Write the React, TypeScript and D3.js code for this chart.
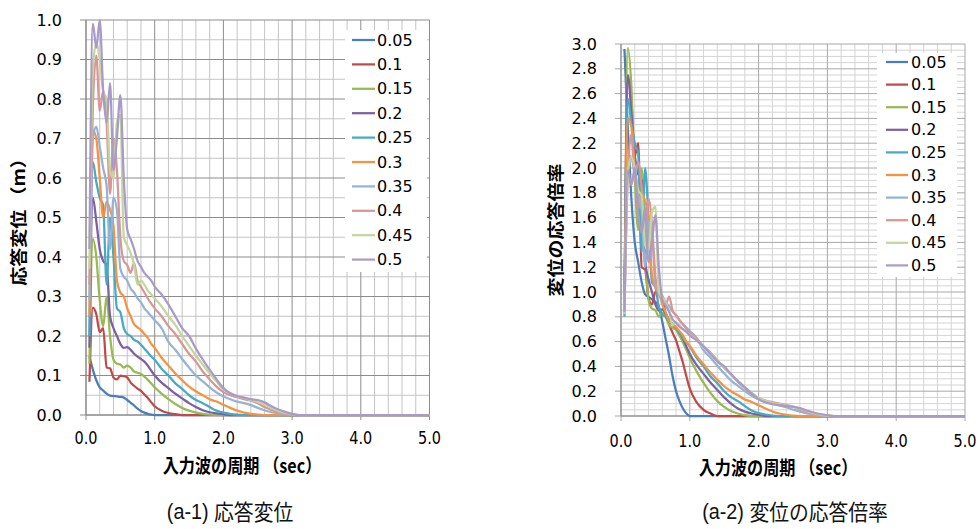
import React from 'react';
import * as d3 from 'd3';

const periods = [0.05, 0.1, 0.15, 0.2, 0.25, 0.3, 0.35, 0.4, 0.45, 0.5, 0.55, 0.6, 0.65, 0.7, 0.75, 0.8, 0.85, 0.9, 0.95, 1.0,
  1.1, 1.2, 1.3, 1.4, 1.5, 1.6, 1.7, 1.8, 1.9, 2.0, 2.1, 2.2, 2.3, 2.4, 2.5, 2.6, 2.7, 2.8, 2.9, 3.0, 3.1, 5.0];

const amplitudes = [0.05, 0.1, 0.15, 0.2, 0.25, 0.3, 0.35, 0.4, 0.45, 0.5];
const seriesLabels = ['0.05', '0.1', '0.15', '0.2', '0.25', '0.3', '0.35', '0.4', '0.45', '0.5'];
const colors = ['#4A7EBB', '#BE4B48', '#98B954', '#7D60A0', '#46AAC5', '#F69240', '#95B3D7', '#D99694', '#C3D69B', '#A99BC8'];

// response displacement (m) (a-1)
const d005 = [0.148, 0.115, 0.088, 0.07, 0.062, 0.054, 0.049, 0.048, 0.047, 0.046, 0.044, 0.038, 0.031, 0.024, 0.016, 0.01, 0.006, 0.003, 0.001, 0,
  0, 0, 0, 0, 0, 0, 0, 0, 0, 0, 0, 0, 0, 0, 0, 0, 0, 0, 0, 0, 0, 0];
const d010 = [0.084, 0.272, 0.255, 0.21, 0.22, 0.12, 0.118, 0.095, 0.09, 0.1, 0.098, 0.095, 0.082, 0.074, 0.067, 0.061, 0.052, 0.043, 0.032, 0.022,
  0.011, 0.005, 0.002, 0, 0, 0, 0, 0, 0, 0, 0, 0, 0, 0, 0, 0, 0, 0, 0, 0, 0, 0];
const d015 = [0.13, 0.445, 0.4, 0.29, 0.225, 0.3, 0.2, 0.14, 0.13, 0.128, 0.12, 0.125, 0.12, 0.11, 0.107, 0.104, 0.097, 0.089, 0.08, 0.07,
  0.054, 0.04, 0.028, 0.018, 0.011, 0.006, 0.003, 0.001, 0, 0, 0, 0, 0, 0, 0, 0, 0, 0, 0, 0, 0, 0];
const d020 = [0.17, 0.55, 0.49, 0.42, 0.39, 0.38, 0.25, 0.22, 0.2, 0.18, 0.17, 0.172, 0.165, 0.155, 0.148, 0.142, 0.135, 0.125, 0.112, 0.1,
  0.082, 0.068, 0.054, 0.042, 0.03, 0.02, 0.012, 0.007, 0.004, 0.002, 0, 0, 0, 0, 0, 0, 0, 0, 0, 0, 0, 0];
const d025 = [0.2, 0.64, 0.59, 0.55, 0.53, 0.33, 0.5, 0.4, 0.27, 0.26, 0.22, 0.205, 0.2, 0.19, 0.186, 0.178, 0.168, 0.158, 0.148, 0.14,
  0.117, 0.1, 0.08, 0.066, 0.05, 0.038, 0.03, 0.02, 0.011, 0.006, 0.003, 0.001, 0, 0, 0, 0, 0, 0, 0, 0, 0, 0];
const d030 = [0.25, 0.72, 0.7, 0.6, 0.5, 0.54, 0.52, 0.48, 0.34, 0.31, 0.3, 0.27, 0.25, 0.23, 0.222, 0.215, 0.205, 0.195, 0.18, 0.17,
  0.145, 0.125, 0.105, 0.088, 0.072, 0.06, 0.05, 0.04, 0.034, 0.026, 0.018, 0.011, 0.006, 0.003, 0.001, 0, 0, 0, 0, 0, 0, 0];
const d035 = [0.29, 0.7, 0.73, 0.68, 0.625, 0.58, 0.42, 0.55, 0.52, 0.37, 0.35, 0.34, 0.32, 0.31, 0.295, 0.285, 0.27, 0.26, 0.25, 0.24,
  0.22, 0.185, 0.165, 0.142, 0.12, 0.1, 0.085, 0.07, 0.057, 0.047, 0.04, 0.034, 0.03, 0.025, 0.018, 0.012, 0.007, 0.004, 0.002, 0, 0, 0];
const d040 = [0.33, 0.78, 0.91, 0.77, 0.82, 0.74, 0.56, 0.7, 0.62, 0.45, 0.39, 0.38, 0.36, 0.385, 0.34, 0.325, 0.31, 0.295, 0.282, 0.27,
  0.25, 0.225, 0.205, 0.18, 0.155, 0.135, 0.11, 0.09, 0.072, 0.058, 0.05, 0.045, 0.04, 0.036, 0.03, 0.02, 0.013, 0.007, 0.003, 0.001, 0, 0];
const d045 = [0.37, 0.88, 0.94, 0.9, 0.82, 0.8, 0.62, 0.6, 0.74, 0.76, 0.45, 0.43, 0.41, 0.38, 0.33, 0.34, 0.33, 0.315, 0.305, 0.295,
  0.275, 0.25, 0.228, 0.2, 0.175, 0.15, 0.128, 0.105, 0.085, 0.065, 0.055, 0.047, 0.043, 0.038, 0.033, 0.027, 0.018, 0.01, 0.005, 0.002, 0, 0];
const d050 = [0.42, 0.99, 0.93, 1.0, 0.82, 0.74, 0.84, 0.62, 0.7, 0.81, 0.6, 0.47, 0.445, 0.42, 0.39, 0.375, 0.36, 0.35, 0.34, 0.325,
  0.305, 0.28, 0.25, 0.22, 0.2, 0.168, 0.14, 0.115, 0.09, 0.068, 0.055, 0.048, 0.044, 0.04, 0.038, 0.032, 0.022, 0.014, 0.008, 0.003, 0, 0];

const displacement = [d005, d010, d015, d020, d025, d030, d035, d040, d045, d050];
// response ratio = response displacement / input amplitude
const ratio = displacement.map((s, i) => s.map((v) => v / amplitudes[i]));

const xTickLabels = ['0.0', '1.0', '2.0', '3.0', '4.0', '5.0'];
const leftYTicks = [0, 0.1, 0.2, 0.3, 0.4, 0.5, 0.6, 0.7, 0.8, 0.9, 1.0];
const rightYTicks = [0, 0.2, 0.4, 0.6, 0.8, 1.0, 1.2, 1.4, 1.6, 1.8, 2.0, 2.2, 2.4, 2.6, 2.8, 3.0];

const NUM_FONT = 'DejaVu Sans, sans-serif';
const CJK_FONT = '"Noto Sans CJK JP", sans-serif';

type ChartProps = {
  x0: number; x1: number; yBottom: number; yTop: number; yMax: number;
  yTicks: number[]; minorYStep: number; data: number[][];
  yLabelX: number; xLabelY: number;
  yTitle: string; yTitleX: number; xTitleX: number; xTitleY: number;
  legend: { x0: number; x1: number; y0: number; y1: number; first: number; step: number; lx0: number; lx1: number; tx: number };
  majorColor: string; minorColor: string;
};

function Chart(p: ChartProps) {
  const x = d3.scaleLinear().domain([0, 5]).range([p.x0, p.x1]);
  const y = d3.scaleLinear().domain([0, p.yMax]).range([p.yBottom, p.yTop]);
  const line = d3.line<[number, number]>().x((d) => x(d[0])).y((d) => y(Math.min(d[1], p.yMax))).curve(d3.curveMonotoneX);
  const minorX = d3.range(0, 5.0001, 0.2).filter((v) => Math.abs(v - Math.round(v)) > 1e-6);
  const minorY = d3.range(0, p.yMax + 1e-6, p.minorYStep).filter((v) => !p.yTicks.some((t) => Math.abs(t - v) < 1e-6));
  const fmt = d3.format('.1f');
  const midY = (p.yBottom + p.yTop) / 2;
  return (
    <g>
      {minorY.map((v, i) => (
        <line key={'my' + i} x1={p.x0} x2={p.x1} y1={y(v)} y2={y(v)} stroke={p.minorColor} strokeWidth={1} />
      ))}
      {minorX.map((v, i) => (
        <line key={'mx' + i} x1={x(v)} x2={x(v)} y1={p.yBottom} y2={p.yTop} stroke={p.minorColor} strokeWidth={1} />
      ))}
      {p.yTicks.map((v, i) => (
        <line key={'gy' + i} x1={p.x0 - 6} x2={p.x1} y1={y(v)} y2={y(v)} stroke={p.majorColor} strokeWidth={1} />
      ))}
      {d3.range(0, 6).map((v) => (
        <line key={'gx' + v} x1={x(v)} x2={x(v)} y1={p.yBottom + 5} y2={p.yTop} stroke={p.majorColor} strokeWidth={1} />
      ))}
      <line x1={p.x0} x2={p.x1} y1={p.yBottom} y2={p.yBottom} stroke="#868686" strokeWidth={1} />
      <line x1={p.x0} x2={p.x0} y1={p.yBottom} y2={p.yTop} stroke="#868686" strokeWidth={1} />
      {p.data.map((s, i) => (
        <path key={'s' + i} d={line(periods.map((t, j) => [t, s[j]] as [number, number])) || ''}
          fill="none" stroke={colors[i]} strokeWidth={2.25} strokeLinejoin="round" />
      ))}
      {p.yTicks.map((v, i) => (
        <text key={'yl' + i} x={p.yLabelX} y={y(v)} textAnchor="end" dominantBaseline="central"
          fontFamily={NUM_FONT} fontSize={16} fill="#000">{fmt(v)}</text>
      ))}
      {xTickLabels.map((lab, i) => (
        <text key={'xl' + i} transform={`translate(${x(i)},${p.xLabelY}) scale(0.85,1)`} textAnchor="middle" dominantBaseline="central"
          fontFamily={NUM_FONT} fontSize={17} fill="#000">{lab}</text>
      ))}
      <text transform={`translate(${p.yTitleX},${midY}) rotate(-90) scale(1,0.88)`} textAnchor="middle" dominantBaseline="central"
        fontFamily={CJK_FONT} fontWeight="bold" fontSize={19} fill="#000">{p.yTitle}</text>
      <text transform={`translate(${p.xTitleX},${p.xTitleY}) scale(0.85,1)`} textAnchor="middle" dominantBaseline="central"
        fontFamily={CJK_FONT} fontWeight="bold" fontSize={19} fill="#000">入力波の周期 （sec）</text>
      <rect x={p.legend.x0} y={p.legend.y0} width={p.legend.x1 - p.legend.x0} height={p.legend.y1 - p.legend.y0} fill="#fff" />
      {seriesLabels.map((lab, i) => {
        const ly = p.legend.first + i * p.legend.step;
        return (
          <g key={'lg' + i}>
            <line x1={p.legend.lx0} x2={p.legend.lx1} y1={ly} y2={ly} stroke={colors[i]} strokeWidth={2.25} />
            <text x={p.legend.tx} y={ly} dominantBaseline="central" fontFamily={NUM_FONT} fontSize={16} fill="#000">{lab}</text>
          </g>
        );
      })}
    </g>
  );
}

export default function App() {
  return (
    <svg width={980} height={529} style={{ position: 'absolute', left: 0, top: 0, background: '#fff' }}>
      <rect x={0} y={0} width={980} height={529} fill="#fff" />
      <Chart x0={86} x1={429.5} yBottom={415} yTop={20} yMax={1.0} yTicks={leftYTicks} minorYStep={0.05}
        data={displacement} yLabelX={62} xLabelY={438} yTitle="応答変位 （m）" yTitleX={18}
        xTitleX={242} xTitleY={465}
        legend={{ x0: 345, x1: 427, y0: 30, y1: 272, first: 40, step: 24.4, lx0: 352, lx1: 375, tx: 377 }}
        majorColor="#8C8C8C" minorColor="#C4C4C4" />
      <Chart x0={621} x1={965} yBottom={416} yTop={44} yMax={3.0} yTicks={rightYTicks} minorYStep={0.05}
        data={ratio} yLabelX={597} xLabelY={441} yTitle="変位の応答倍率" yTitleX={555}
        xTitleX={778} xTitleY={467}
        legend={{ x0: 877, x1: 957, y0: 53, y1: 277, first: 62, step: 22.6, lx0: 886, lx1: 908, tx: 911 }}
        majorColor="#A8A8A8" minorColor="#D4D4D4" />
      <text transform="translate(230,511) scale(0.9,1)" textAnchor="middle" dominantBaseline="central" fontSize={22} fill="#111">
        <tspan fontFamily='"Liberation Sans Narrow", "Liberation Sans", sans-serif'>(a-1) </tspan>
        <tspan fontFamily={CJK_FONT}>応答変位</tspan>
      </text>
      <text transform="translate(795,511) scale(0.9,1)" textAnchor="middle" dominantBaseline="central" fontSize={22} fill="#111">
        <tspan fontFamily='"Liberation Sans Narrow", "Liberation Sans", sans-serif'>(a-2) </tspan>
        <tspan fontFamily={CJK_FONT}>変位の応答倍率</tspan>
      </text>
    </svg>
  );
}
